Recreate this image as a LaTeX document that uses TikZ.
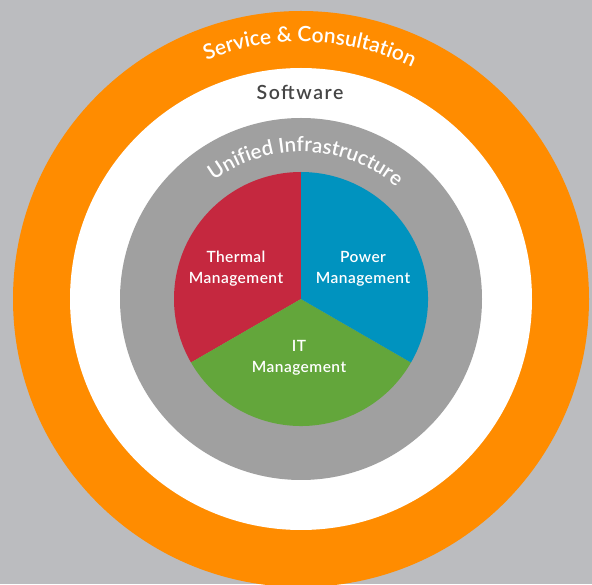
\documentclass[tikz,border=0pt]{standalone}
\usepackage{fontspec}
\setmainfont{Lato}
\IfFontExistsTF{Lato Semibold}
  {\newfontfamily\lblfont[LetterSpace=3]{Lato Semibold}
   \newfontfamily\swfont[LetterSpace=8]{Lato Semibold}
   \newfontfamily\arcfont{Lato Semibold}}
  {\newfontfamily\lblfont[LetterSpace=3,FakeBold=1.5]{Lato}
   \newfontfamily\swfont[LetterSpace=8,FakeBold=1.5]{Lato}
   \newfontfamily\arcfont[FakeBold=1.5]{Lato}}
\usetikzlibrary{decorations.text}
\definecolor{bgc}{HTML}{BBBCBF}
\definecolor{orng}{HTML}{FF8C00}
\definecolor{ringgray}{HTML}{A0A0A0}
\definecolor{thred}{HTML}{C5283F}
\definecolor{pwblue}{HTML}{0093BF}
\definecolor{itgreen}{HTML}{63A63B}
\definecolor{softgray}{HTML}{454545}
\begin{document}
\begin{tikzpicture}[x=1pt,y=1pt,
  lbl/.style={text=white, font=\lblfont\fontsize{15.5}{21}\selectfont, align=center, inner sep=0pt},
  arctext/.style={decorate, decoration={text along path, text align=center, text={#1}}}]
\useasboundingbox (0,0) rectangle (592,584);
\clip (0,0) rectangle (592,584);
\fill[bgc] (0,0) rectangle (592,584);
\coordinate (C) at (301,285);
% rings
\fill[orng] (C) circle[radius=288pt];
\fill[white] (C) circle[radius=231pt];
\fill[ringgray] (C) circle[radius=181pt];
% pie
\fill[thred] (C) -- ++(90:127pt) arc[start angle=90,end angle=210,radius=127pt] -- cycle;
\fill[itgreen] (C) -- ++(210:127pt) arc[start angle=210,end angle=330,radius=127pt] -- cycle;
\fill[pwblue] (C) -- ++(330:127pt) arc[start angle=-30,end angle=90,radius=127pt] -- cycle;
% labels
\node[lbl] (thermal) at (236,315) {Thermal\\Management};
\node[lbl] (power) at (363,315) {Power\\Management};
\node[lbl] (it) at (299,226) {IT\\Management};
\node[text=softgray, font=\swfont\fontsize{19.5}{23}\selectfont, anchor=base, inner sep=0pt] (software) at (300,484) {Software};
% curved labels
\path[arctext={|\color{white}\arcfont\fontsize{21}{25}\selectfont|Service {\&} Consultation}]
  ([shift={(148:257pt)}]C) arc[start angle=148,end angle=28,radius=257pt];
\path[arctext={|\color{white}\arcfont\fontsize{20.5}{24}\selectfont|Unified Infrastructure}]
  ([shift={(148:147pt)}]C) arc[start angle=148,end angle=28,radius=147pt];
\end{tikzpicture}
\end{document}
